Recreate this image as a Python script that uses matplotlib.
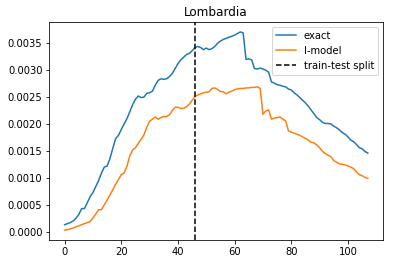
import matplotlib
matplotlib.use("Agg")
import matplotlib.pyplot as plt
import numpy as np

# values, in units of 1e-4
exact = [1.3, 1.5, 1.7, 2.0, 2.5, 3.2, 4.3, 4.3, 5.4, 6.5,
         7.3, 8.4, 9.5, 10.9, 12.0, 12.2, 13.6, 15.5, 17.3, 17.9,
         19.0, 20.0, 21.0, 22.3, 23.6, 24.6, 25.2, 24.9, 25.0, 25.7,
         25.8, 26.1, 27.2, 28.1, 28.4, 28.3, 28.4, 28.8, 29.4, 30.3,
         31.2, 31.9, 32.4, 32.9, 33.1, 33.6, 34.2, 34.4, 34.2, 33.8,
         34.1, 33.8, 34.0, 34.4, 35.0, 35.4, 35.7, 35.9, 36.1, 36.3,
         36.5, 36.8, 37.1, 36.9, 32.0, 32.1, 31.9, 30.3, 30.2, 30.4,
         30.2, 30.0, 29.6, 27.8, 27.6, 27.3, 27.2, 27.0, 26.9, 26.5,
         26.3, 25.8, 25.4, 24.9, 24.4, 23.9, 23.3, 22.6, 21.9, 21.2,
         20.8, 20.3, 20.1, 20.1, 20.0, 19.6, 19.3, 18.9, 18.4, 18.1,
         17.6, 17.0, 16.7, 16.2, 15.6, 15.4, 14.9, 14.6]
l_model = [0.3, 0.4, 0.5, 0.7, 0.9, 1.1, 1.3, 1.5, 1.7, 1.9,
           2.6, 3.3, 4.1, 4.1, 5.0, 5.9, 6.8, 7.8, 8.8, 9.7,
           10.6, 10.9, 12.2, 14.1, 15.2, 15.6, 16.4, 17.2, 18.0, 19.4,
           20.5, 20.9, 21.3, 20.9, 21.2, 21.4, 21.4, 21.7, 22.5, 23.1,
           23.1, 22.9, 22.9, 23.2, 23.7, 24.4, 25.1, 25.4, 25.6, 25.8,
           25.9, 26.0, 26.6, 26.7, 26.4, 26.0, 26.0, 25.6, 25.9, 26.1,
           26.4, 26.5, 26.6, 26.6, 26.7, 26.7, 26.8, 26.8, 26.9, 26.6,
           21.8, 22.4, 22.6, 20.9, 21.1, 21.2, 21.3, 20.9, 20.6, 18.7,
           18.5, 18.3, 18.1, 17.9, 17.6, 17.3, 17.0, 16.6, 16.5, 16.1,
           15.6, 14.9, 14.5, 14.2, 13.9, 13.2, 12.9, 12.6, 12.5, 12.4,
           12.2, 12.0, 11.7, 11.1, 10.6, 10.4, 10.1, 9.9]
split_day = 46

exact = np.array(exact) * 1e-4
l_model = np.array(l_model) * 1e-4
days = np.arange(len(exact))

fig = plt.figure(figsize=(394 / 72, 264 / 72), dpi=72)
ax = fig.add_axes([0.1256, 0.0909, 0.972 - 0.1256, 0.9167 - 0.0909])
ax.plot(days, exact, label="exact")
ax.plot(days, l_model, label="l-model")
ax.axvline(split_day, color="black", linestyle="--", label="train-test split")
ax.set_title("Lombardia")
ax.legend(loc="upper right")

fig.savefig("out.png", dpi=72)
